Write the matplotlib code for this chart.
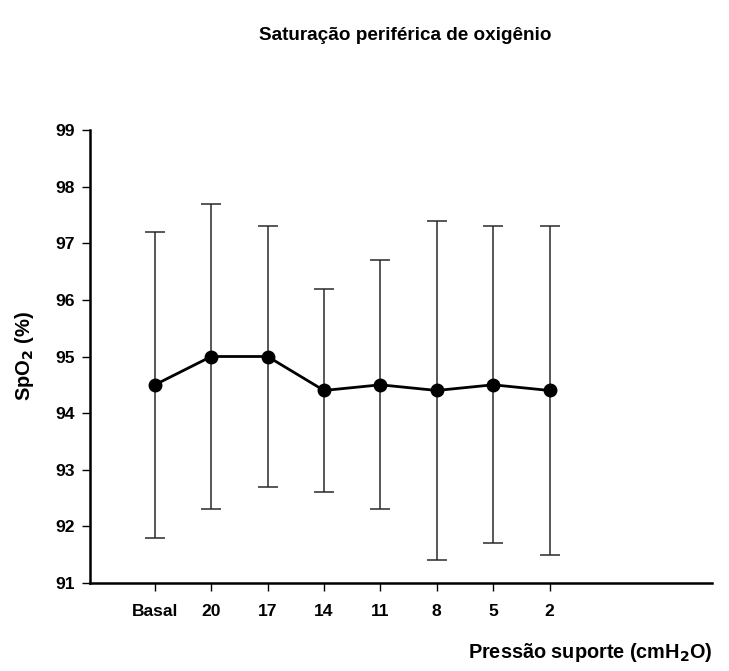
import matplotlib
matplotlib.use("Agg")
import matplotlib.pyplot as plt

plt.rcParams["font.family"] = ["Liberation Sans", "DejaVu Sans"]
plt.rcParams["font.weight"] = "bold"
plt.rcParams["mathtext.default"] = "bf"

# SpO2 by pressure-support level: mean and standard deviation
levels = ["Basal", "20", "17", "14", "11", "8", "5", "2"]
spo2_mean = [94.5, 95.0, 95.0, 94.4, 94.5, 94.4, 94.5, 94.4]
spo2_sd = [2.7, 2.7, 2.3, 1.8, 2.2, 3.0, 2.8, 2.9]
y_ticks = [91, 92, 93, 94, 95, 96, 97, 98, 99]

fig = plt.figure(figsize=(7.29, 6.71), dpi=100)
ax = fig.add_axes([0.1235, 0.1312, 0.853, 0.675])

x = list(range(len(levels)))
ax.errorbar(x, spo2_mean, yerr=spo2_sd, fmt="none", ecolor="#2a2a2a",
            elinewidth=1.1, capsize=7, capthick=1.1, zorder=2)
ax.plot(x, spo2_mean, color="black", lw=2, marker="o", ms=9, zorder=3)

ax.set_xlim(-1.15, 9.88)
ax.set_ylim(91, 99)
ax.set_xticks(x)
ax.set_xticklabels(levels)
ax.set_yticks(y_ticks)

for side in ("top", "right"):
    ax.spines[side].set_visible(False)
for side in ("left", "bottom"):
    ax.spines[side].set_linewidth(1.8)
ax.tick_params(direction="out", length=6, width=1, labelsize=12.6)
ax.tick_params(axis="x", pad=9)
ax.tick_params(axis="y", pad=5)

ax.set_ylabel("SpO$_2$ (%)", fontsize=14.5, fontweight="bold", labelpad=14)
fig.text(0.977, 0.020, "Pressão suporte (cmH$_2$O)", fontsize=14.3,
         fontweight="bold", ha="right", va="baseline")
fig.text(0.5556, 0.947, "Saturação periférica de oxigênio", fontsize=13.6,
         fontweight="bold", ha="center", va="center")

fig.savefig("out.png", dpi=100)
